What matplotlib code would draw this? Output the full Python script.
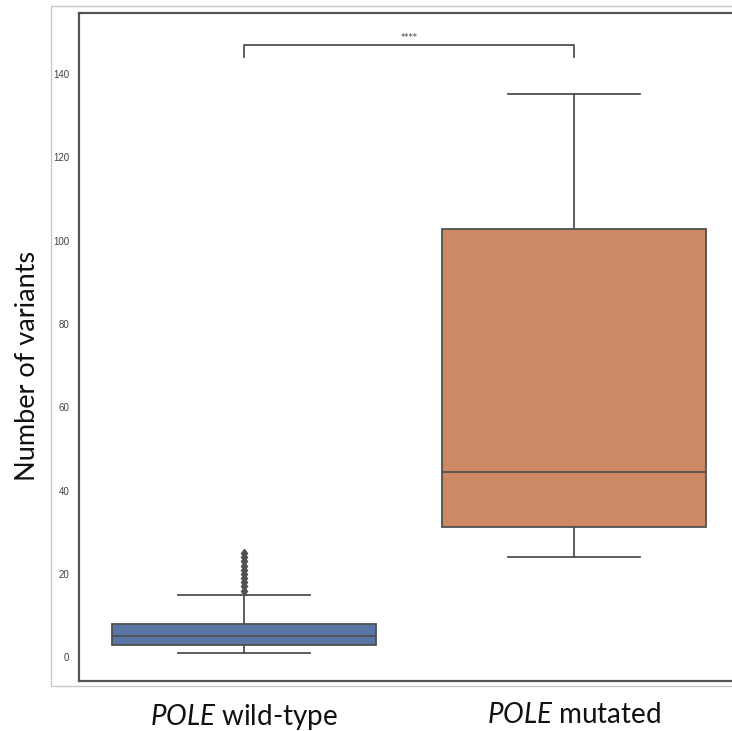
import numpy as np
import matplotlib
matplotlib.use("Agg")
import matplotlib.pyplot as plt
from matplotlib.patches import Rectangle

# box statistics
groups = ["POLE wild-type", "POLE mutated"]
low_whisker = [1, 24]
q1 = [3, 31.3]
median = [5, 44.4]
q3 = [8, 102.8]
high_whisker = [15, 135.1]
fliers_wt = [16, 17, 18, 19, 20, 21, 22, 23, 24, 25]
fliers_mut = []
box_colors = ["#5875a4", "#cc8963"]
yticks = [0, 20, 40, 60, 80, 100, 120, 140]
sig_label = "****"
sig_y = 147

plt.rcParams['mathtext.fontset'] = 'custom'
plt.rcParams['mathtext.it'] = 'Lato:italic'
plt.rcParams['mathtext.rm'] = 'Lato'

W, H = 732, 731
fig = plt.figure(figsize=(W / 100, H / 100), dpi=100)
# outer frame of the pasted figure
fig.patches.append(Rectangle((51 / W, 1 - 686 / H), 1.0, (686 - 6) / H,
                             transform=fig.transFigure, fill=False,
                             edgecolor="#c8c8c8", linewidth=1))
ax = fig.add_axes([79 / W, 1 - 681 / H, (739 - 79) / W, (681 - 12.7) / H])

stats = []
fl = [fliers_wt, fliers_mut]
for i in range(len(groups)):
    stats.append(dict(whislo=low_whisker[i], q1=q1[i], med=median[i], q3=q3[i],
                      whishi=high_whisker[i], fliers=fl[i]))

lc = "#505050"
bp = ax.bxp(stats, positions=[0, 1], widths=0.8, patch_artist=True,
            boxprops=dict(edgecolor=lc, linewidth=1.3),
            medianprops=dict(color=lc, linewidth=1.3),
            whiskerprops=dict(color=lc, linewidth=1.3),
            capprops=dict(color=lc, linewidth=1.3),
            capwidths=0.4,
            flierprops=dict(marker="d", markerfacecolor=lc, markeredgecolor=lc,
                            markersize=4.5))
for patch, c in zip(bp["boxes"], box_colors):
    patch.set_facecolor(c)

ax.set_xlim(-0.5, 1.5)
ax.set_ylim(-5.7, 154.7)
ax.set_yticks(yticks)
ax.set_yticklabels([str(t) for t in yticks], fontsize=7, color="#404040",
                   family="Liberation Sans")
ax.tick_params(axis="y", length=0, pad=7)
ax.set_xticks([0, 1])
ax.set_xticklabels([r"$\mathit{POLE}$ wild-type", r"$\mathit{POLE}$ mutated"],
                   fontsize=20, family="Lato", color="#111111")
ax.tick_params(axis="x", length=0, pad=15)
for s in ax.spines.values():
    s.set_color("#555555")
    s.set_linewidth(1.6)

# significance bracket
ax.plot([0, 0, 1, 1], [sig_y - 3, sig_y, sig_y, sig_y - 3], color=lc, linewidth=1.3)
ax.text(0.5, sig_y + 0.6, sig_label, ha="center", va="bottom", fontsize=6,
        color="#404040")

fig.text(28 / W, 1 - 366 / H, "Number of variants", rotation=90, ha="center",
         va="center", fontsize=19.5, family="Lato", color="#111111")

fig.savefig("out.png", dpi=100)
